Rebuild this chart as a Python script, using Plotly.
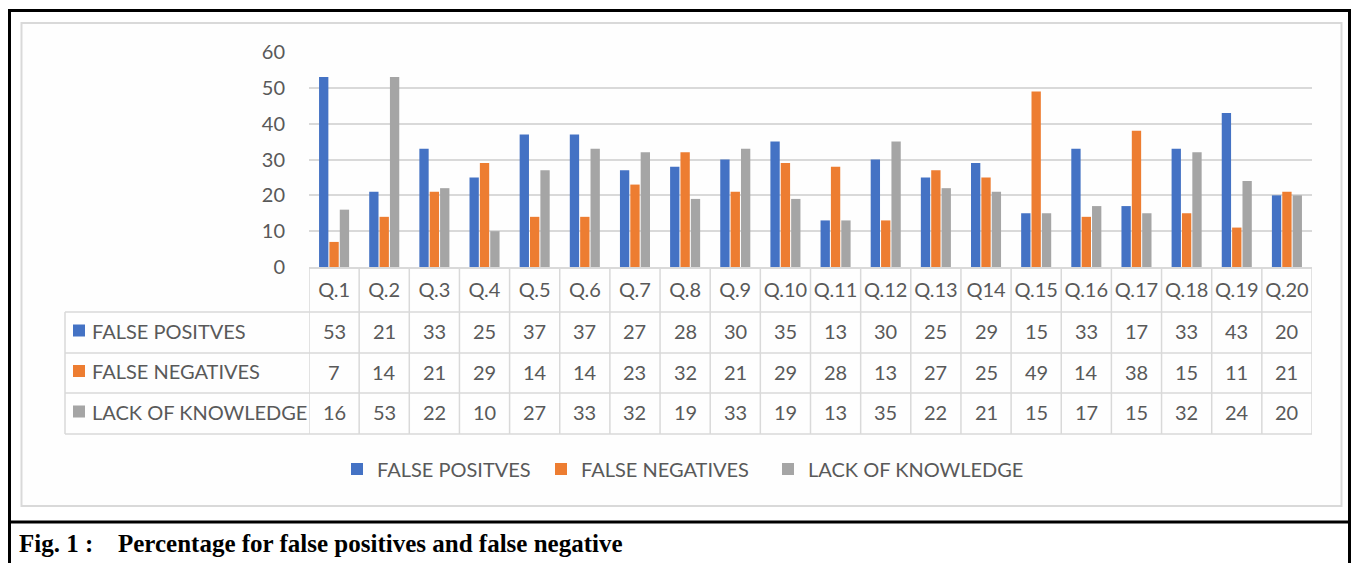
import plotly.graph_objects as go

W, H = 1351, 563

questions = ["Q.1", "Q.2", "Q.3", "Q.4", "Q.5", "Q.6", "Q.7", "Q.8", "Q.9", "Q.10",
             "Q.11", "Q.12", "Q.13", "Q14", "Q.15", "Q.16", "Q.17", "Q.18", "Q.19", "Q.20"]
false_positives = [53, 21, 33, 25, 37, 37, 27, 28, 30, 35, 13, 30, 25, 29, 15, 33, 17, 33, 43, 20]
false_negatives = [7, 14, 21, 29, 14, 14, 23, 32, 21, 29, 28, 13, 27, 25, 49, 14, 38, 15, 11, 21]
lack_knowledge = [16, 53, 22, 10, 27, 33, 32, 19, 33, 19, 13, 35, 22, 21, 15, 17, 15, 32, 24, 20]
series_names = ["FALSE POSITVES", "FALSE NEGATIVES", "LACK OF KNOWLEDGE"]
series_values = [false_positives, false_negatives, lack_knowledge]
colors = ["#4472C4", "#ED7D31", "#A5A5A5"]
caption_label = "Fig. 1 :"
caption_text = "Percentage for false positives and false negative"

TXT = "#595959"
GRID = "#d9d9d9"
FONT = "Lato"
legend_widths = [159, 182, 240]


def px(x):
    return x / W


def py(y):
    return 1 - y / H


fig = go.Figure()
for name, vals, col, lw in zip(series_names, series_values, colors, legend_widths):
    fig.add_trace(go.Bar(x=questions, y=vals, name=name, legendwidth=lw,
                         marker=dict(color=col, line=dict(width=0))))

shapes = []
annotations = []

# outer black frame and caption box
shapes.append(dict(type="rect", xref="paper", yref="paper", x0=px(9.5), x1=px(1349.5),
                   y0=py(10.5), y1=py(522), line=dict(color="black", width=3)))
shapes.append(dict(type="line", xref="paper", yref="paper", x0=px(9.5), x1=px(9.5),
                   y0=py(522), y1=py(563), line=dict(color="black", width=3)))
shapes.append(dict(type="line", xref="paper", yref="paper", x0=px(1349.5), x1=px(1349.5),
                   y0=py(522), y1=py(563), line=dict(color="black", width=3)))
# inner chart area border
shapes.append(dict(type="rect", xref="paper", yref="paper", x0=px(21.5), x1=px(1341.5),
                   y0=py(23), y1=py(506), line=dict(color=GRID, width=2), fillcolor="#fefefe",
                   layer="below"))

# data table grid
row_lines = [312, 353, 393, 434]
for yl in row_lines:
    shapes.append(dict(type="line", xref="paper", yref="paper", x0=px(65), x1=px(1312),
                       y0=py(yl), y1=py(yl), line=dict(color=GRID, width=1.5)))
shapes.append(dict(type="line", xref="paper", yref="paper", x0=px(65), x1=px(65),
                   y0=py(312), y1=py(434), line=dict(color=GRID, width=1.5)))
for i in range(len(questions) + 1):
    shapes.append(dict(type="line", xref="x", yref="paper", x0=i - 0.5, x1=i - 0.5,
                       y0=py(267), y1=py(434), line=dict(color=GRID, width=1.5)))

row_centers = [332.5, 373, 413.5]
for rc, name, vals, col in zip(row_centers, series_names, series_values, colors):
    shapes.append(dict(type="rect", xref="paper", yref="paper", x0=px(73), x1=px(85),
                       y0=py(rc - 8), y1=py(rc + 4), line=dict(width=0), fillcolor=col))
    annotations.append(dict(xref="paper", yref="paper", x=px(90), y=py(rc - 2), text=name,
                            showarrow=False, xanchor="left", yanchor="middle",
                            font=dict(family=FONT, size=20, color=TXT)))
    for q, v in zip(questions, vals):
        annotations.append(dict(xref="x", yref="paper", x=q, y=py(rc - 1.5), text=str(v),
                                showarrow=False, xanchor="center", yanchor="middle",
                                font=dict(family=FONT, size=20, color=TXT)))

# caption
annotations.append(dict(xref="paper", yref="paper", x=px(17), y=py(543), text="<b>" + caption_label + "</b>",
                        showarrow=False, xanchor="left", yanchor="middle",
                        font=dict(family="Liberation Serif", size=25, color="black")))
annotations.append(dict(xref="paper", yref="paper", x=px(116), y=py(543), text="<b>" + caption_text + "</b>",
                        showarrow=False, xanchor="left", yanchor="middle",
                        font=dict(family="Liberation Serif", size=25, color="black")))

fig.update_layout(
    width=W, height=H, autosize=False,
    margin=dict(l=0, r=0, t=0, b=0, autoexpand=False),
    paper_bgcolor="white", plot_bgcolor="rgba(0,0,0,0)",
    barmode="group", bargap=0.38, bargroupgap=0.1,
    font=dict(family=FONT, size=20, color=TXT),
    shapes=shapes, annotations=annotations,
    showlegend=True,
    legend=dict(orientation="h", x=px(337), xanchor="left", y=py(469), yanchor="middle",
                font=dict(family=FONT, size=20, color=TXT), bgcolor="rgba(0,0,0,0)",
                traceorder="normal"),
    xaxis=dict(domain=[px(309), px(1312)], range=[-0.5, len(questions) - 0.5], automargin=False,
               showgrid=False, showline=True, linecolor=GRID, linewidth=1.5,
               ticks="outside", ticklen=4, tickcolor="rgba(0,0,0,0)",
               tickfont=dict(family=FONT, size=20, color=TXT), fixedrange=True),
    yaxis=dict(domain=[py(267), py(52)], range=[0, 60], dtick=10, automargin=False,
               showgrid=True, gridcolor=GRID, gridwidth=1.5, zeroline=False, showline=False,
               ticks="outside", ticklen=19, tickcolor="rgba(0,0,0,0)",
               tickfont=dict(family=FONT, size=20, color=TXT), fixedrange=True),
)

post = ("document.body.style.margin='0px';document.body.style.padding='0px';"
        "document.body.style.overflow='hidden';"
        "var g=document.getElementById('{plot_id}');g.style.position='fixed';"
        "g.style.left='0px';g.style.top='0px';")
fig.write_html("out.html", post_script=post, config={"displayModeBar": False})
